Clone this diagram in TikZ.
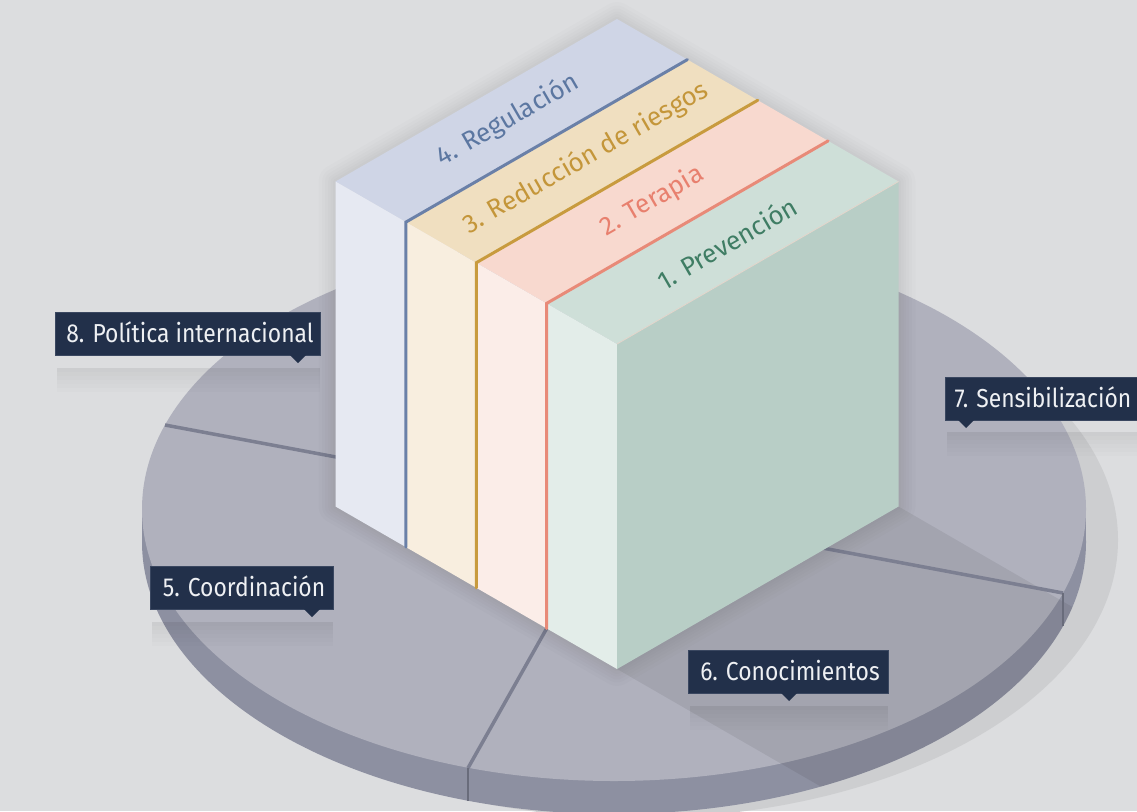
\documentclass[tikz,border=0pt]{standalone}
\usepackage{fontspec}
\setmainfont{Fira Sans}
\newfontfamily\lblfont{Fira Sans}[FakeStretch=0.88]
\usetikzlibrary{calc}
\definecolor{bg}{HTML}{DCDDDF}
\definecolor{ring}{HTML}{CDCED0}
\definecolor{disctop}{HTML}{B0B1BD}
\definecolor{rim}{HTML}{8D90A1}
\definecolor{divl}{HTML}{7C7F91}
\definecolor{navy}{HTML}{22304A}
\definecolor{navyedge}{HTML}{3A4760}
\definecolor{lbltxt}{HTML}{EEF0F3}
\definecolor{sFtop}{HTML}{CFD5E6}
\definecolor{sFfront}{HTML}{E6E9F2}
\definecolor{sTtop}{HTML}{F0DFC0}
\definecolor{sTfront}{HTML}{F8EEDF}
\definecolor{sDtop}{HTML}{F8D9CF}
\definecolor{sDfront}{HTML}{FBEDE8}
\definecolor{sOtop}{HTML}{CEDFD8}
\definecolor{sOfront}{HTML}{E3EDE9}
\definecolor{sOright}{HTML}{B8CEC6}
\definecolor{accblue}{HTML}{6A80A8}
\definecolor{accochre}{HTML}{C89B3E}
\definecolor{accsalmon}{HTML}{E88A78}
\definecolor{txblue}{HTML}{5C77A1}
\definecolor{txochre}{HTML}{C4963A}
\definecolor{txsalmon}{HTML}{E8806E}
\definecolor{txgreen}{HTML}{3F7D64}
\tikzset{
  divline/.style={draw=divl, line width=3.5pt},
  notchline/.style={draw=divl!85!black, line width=2.5pt},
  lblbox/.style={fill=navy, draw=navyedge, line width=0.8pt, minimum height=43pt,
    inner sep=0pt, text=lbltxt, font=\lblfont\fontsize{26}{30}\selectfont,
    text height=18pt, text depth=0pt},
  toplbl/.style={rotate=30, inner sep=0pt, font=\fontsize{26}{30}\selectfont},
  pointer/.style={fill=navy},
  accent/.style={line width=3pt, line cap=round},
}
\begin{document}
\begin{tikzpicture}[x=1pt,y=-1pt]
\useasboundingbox (0,0) rectangle (1137,811);
\fill[bg] (0,0) rectangle (1137,811);

% shadow ring of the disc
\fill[ring] (638,540) ellipse [x radius=480, y radius=278];

% disc
\fill[rim] (614,542) ellipse [x radius=472, y radius=272];
\fill[rim] (142,509) rectangle (1086,542);
\fill[disctop] (614,509) ellipse [x radius=472, y radius=272];

% cube coordinates
\coordinate (P0) at (617,344);
\coordinate (P1) at (546.6,303.4);
\coordinate (P2) at (476.25,262.75);
\coordinate (P3) at (405.9,222.1);
\coordinate (P4) at (335.5,181.5);
\coordinate (Q0) at (898.5,181.5);
\coordinate (Q1) at (828.1,140.9);
\coordinate (Q2) at (757.75,100.25);
\coordinate (Q3) at (687.4,59.6);
\coordinate (Q4) at (617,19);
\coordinate (R0) at (617,669);
\coordinate (R1) at (546.6,628.4);
\coordinate (R2) at (476.25,587.75);
\coordinate (R3) at (405.9,547.1);
\coordinate (R4) at (335.5,506.5);
\coordinate (S) at (898.5,506.5);

% cube shadow on the disc
\begin{scope}
\clip (614,509) ellipse [x radius=472, y radius=272];
\fill[black, opacity=0.07] (R0) -- (S) -- (1517,864) -- (1236,1026) -- cycle;
\end{scope}
\begin{scope}[even odd rule]
\clip (614,542) ellipse [x radius=472, y radius=272] (614,509) ellipse [x radius=472, y radius=272];
\fill[black, opacity=0.07] (R0) -- (S) -- (1517,864) -- (1236,1026) -- cycle;
\end{scope}

% pie dividers
\coordinate (C) at (614,509);
\coordinate (E1) at (760,250);
\coordinate (E2) at (165,425);
\coordinate (E3) at (468,768);
\coordinate (E4) at (1063,593);
\coordinate (N3) at (468,801);
\coordinate (N4) at (1063,626);
\draw[divline] (C) -- (E1);
\draw[divline] (C) -- (E2);
\draw[divline] (C) -- (E3);
\draw[divline] (C) -- (E4);
\draw[notchline] (E3) -- (N3);
\draw[notchline] (E4) -- (N4);

% soft halo around the cube
\foreach \w in {34,27,21,15,10,5}{
  \draw[black, opacity=0.011, line width=\w pt, line join=round]
    (Q4) -- (Q0) -- (S) -- (R0) -- (R4) -- (P4) -- cycle;
}

% slab 4
\fill[sFtop] (P4) -- (Q4) -- (Q3) -- (P3) -- cycle;
\fill[sFfront] (P4) -- (P3) -- (R3) -- (R4) -- cycle;
% slab 3
\fill[sTtop] (P3) -- (Q3) -- (Q2) -- (P2) -- cycle;
\fill[sTfront] (P3) -- (P2) -- (R2) -- (R3) -- cycle;
% slab 2
\fill[sDtop] (P2) -- (Q2) -- (Q1) -- (P1) -- cycle;
\fill[sDfront] (P2) -- (P1) -- (R1) -- (R2) -- cycle;
% slab 1
\fill[sOtop] (P1) -- (Q1) -- (Q0) -- (P0) -- cycle;
\fill[sOfront] (P1) -- (P0) -- (R0) -- (R1) -- cycle;
\fill[sOright] (P0) -- (Q0) -- (S) -- (R0) -- cycle;
\draw[line width=0.8pt, color=sDtop!70!sOright] (P0) -- (Q0);

% accent lines
\draw[accent, accblue] (Q3) -- (P3) -- (R3);
\draw[accent, accochre] (Q2) -- (P2) -- (R2);
\draw[accent, accsalmon] (Q1) -- (P1) -- (R1);

% top labels
\node[toplbl, text=txblue] (t4) at (508,120) {4. Regulación};
\node[toplbl, text=txochre] (t3) at (586,158) {3. Reducción de riesgos};
\node[toplbl, text=txsalmon] (t2) at (652,201) {2. Terapia};
\node[toplbl, text=txgreen] (t1) at (727,243) {1. Prevención};

% label reflections
\foreach \xa/\xb/\yt in {57/320/368, 947/1137/432, 152/333/622, 690/888/706}{
  \foreach \i in {0,...,5}{
    \fill[black, opacity={0.012*(6-\i)}] (\xa,\yt+4*\i) rectangle (\xb,\yt+4*\i+4);
  }
}

% labels
\node[lblbox, minimum width=265pt] (l8) at (187.5,333.5) {\hspace{5pt}8. Política internacional};
\fill[pointer] (290,355) -- (298,363) -- (306,355) -- cycle;
\node[lblbox, minimum width=196pt] (l7) at (1043,398.5) {7. Sensibilización};
\fill[pointer] (958,420) -- (966,428) -- (974,420) -- cycle;
\node[lblbox, minimum width=183pt] (l5) at (241.5,587.5) {\hspace{5pt}5. Coordinación};
\fill[pointer] (304,609) -- (312,617) -- (320,609) -- cycle;
\node[lblbox, minimum width=200pt] (l6) at (788,671.5) {\hspace{4pt}6. Conocimientos};
\fill[pointer] (781,693) -- (789,701) -- (797,693) -- cycle;
\end{tikzpicture}
\end{document}
